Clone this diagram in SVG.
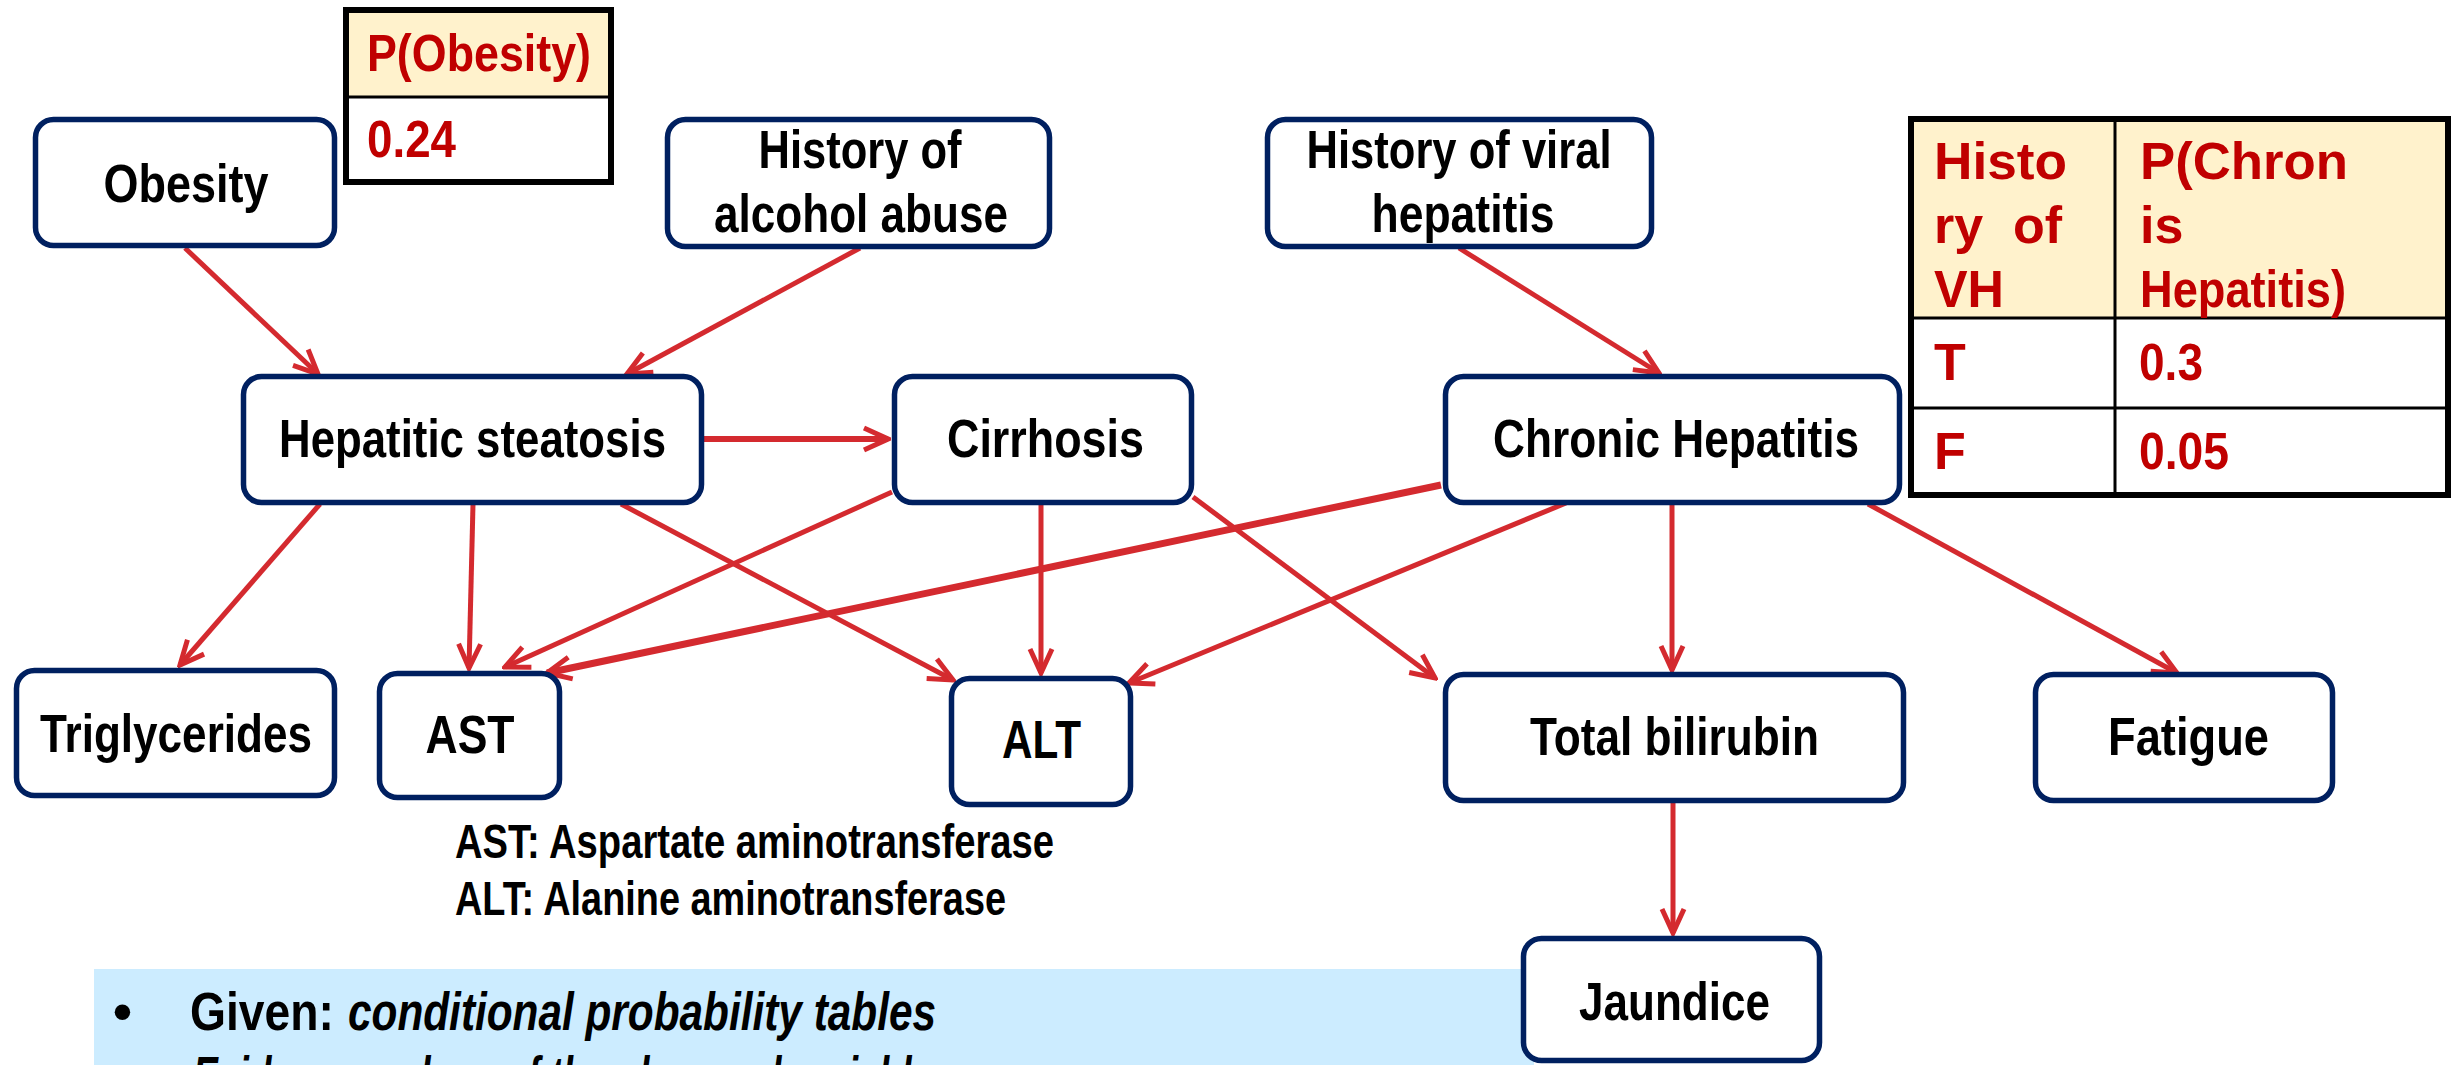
<svg xmlns="http://www.w3.org/2000/svg" width="2453" height="1065" viewBox="0 0 2453 1065">
  <style>
    .node rect { fill: #FFFFFF; stroke: #002060; stroke-width: 5.5; }
    .lbl { font-family: "Liberation Sans", Arial, sans-serif; font-weight: bold; font-size: 54px; fill: #000000; }
    .note { font-family: "Liberation Sans", Arial, sans-serif; font-weight: bold; font-size: 48px; fill: #000000; }
    .cpt { font-family: "Liberation Sans", Arial, sans-serif; font-weight: bold; font-size: 52px; fill: #C00000; }
    .edge { fill: none; stroke: #D42A2F; stroke-width: 5; marker-end: url(#arr); }
    .head { fill: #FFF2CC; }
    .grid { fill: none; stroke: #000000; stroke-width: 3; }
    .frame { fill: none; stroke: #000000; stroke-width: 6; }
  </style>
  <defs>
    <marker id="arr" markerUnits="userSpaceOnUse" viewBox="0 0 30 28" markerWidth="30" markerHeight="28" refX="27" refY="14" orient="auto">
      <path d="M3,3 L27,14 L3,25" fill="none" stroke="#D42A2F" stroke-width="5"/>
    </marker>
  </defs>

  <rect width="2453" height="1065" fill="#FFFFFF"/>

  <!-- summary panel -->
  <g id="summary">
    <rect x="94" y="969" width="1440" height="110" fill="#CCECFF"/>
    <text class="lbl" x="113" y="1030">•</text>
    <text class="lbl" x="190" y="1030" textLength="144" lengthAdjust="spacingAndGlyphs">Given:</text>
    <text class="lbl" x="348" y="1030" font-style="italic" textLength="588" lengthAdjust="spacingAndGlyphs">conditional probability tables</text>
    <text class="lbl" x="113" y="1094">•</text>
    <text class="lbl" x="193" y="1094" font-style="italic" textLength="760" lengthAdjust="spacingAndGlyphs">Evidence: values of the observed variables</text>
  </g>

  <!-- connectors -->
  <g id="edges">
    <path class="edge" d="M185,248 L318,374"/>
    <path class="edge" d="M860,248 L627,374"/>
    <path class="edge" d="M1459,248 L1659,373"/>
    <path class="edge" d="M704,439 L888,439" style="stroke-width:6"/>
    <path class="edge" d="M320,504 L180,665"/>
    <path class="edge" d="M473,504 L469,668"/>
    <path class="edge" d="M621,504 L953,680"/>
    <path class="edge" d="M892,492 L505,667"/>
    <path class="edge" d="M1441,485 L547,673" style="stroke-width:7"/>
    <path class="edge" d="M1041,504 L1041,673"/>
    <path class="edge" d="M1566,503 L1129,683"/>
    <path class="edge" d="M1193,497 L1435,678"/>
    <path class="edge" d="M1672,505 L1672,670"/>
    <path class="edge" d="M1868,504 L2177,673"/>
    <path class="edge" d="M1673,803 L1673,933"/>
  </g>

  <!-- nodes -->
  <g id="obesity" class="node">
    <rect x="35.5" y="119.5" width="299" height="126" rx="18"/>
    <text class="lbl" x="186" y="202" text-anchor="middle" textLength="165" lengthAdjust="spacingAndGlyphs">Obesity</text>
  </g>
  <g id="alcohol" class="node">
    <rect x="667.5" y="119.5" width="382" height="127" rx="18"/>
    <text class="lbl" x="860" y="168" text-anchor="middle" textLength="203" lengthAdjust="spacingAndGlyphs">History of</text>
    <text class="lbl" x="861" y="232" text-anchor="middle" textLength="294" lengthAdjust="spacingAndGlyphs">alcohol abuse</text>
  </g>
  <g id="viral" class="node">
    <rect x="1267.5" y="119.5" width="384" height="127" rx="18"/>
    <text class="lbl" x="1459" y="168" text-anchor="middle" textLength="305" lengthAdjust="spacingAndGlyphs">History of viral</text>
    <text class="lbl" x="1463" y="232" text-anchor="middle" textLength="183" lengthAdjust="spacingAndGlyphs">hepatitis</text>
  </g>
  <g id="steatosis" class="node">
    <rect x="243.5" y="376.5" width="458" height="126" rx="18"/>
    <text class="lbl" x="472.5" y="457" text-anchor="middle" textLength="387" lengthAdjust="spacingAndGlyphs">Hepatitic steatosis</text>
  </g>
  <g id="cirrhosis" class="node">
    <rect x="894.5" y="376.5" width="297" height="126" rx="18"/>
    <text class="lbl" x="1045.5" y="457" text-anchor="middle" textLength="197" lengthAdjust="spacingAndGlyphs">Cirrhosis</text>
  </g>
  <g id="chronic" class="node">
    <rect x="1445.5" y="376.5" width="454" height="126" rx="18"/>
    <text class="lbl" x="1676" y="457" text-anchor="middle" textLength="366" lengthAdjust="spacingAndGlyphs">Chronic Hepatitis</text>
  </g>
  <g id="triglycerides" class="node">
    <rect x="16.5" y="670.5" width="318" height="125" rx="18"/>
    <text class="lbl" x="176" y="752" text-anchor="middle" textLength="272" lengthAdjust="spacingAndGlyphs">Triglycerides</text>
  </g>
  <g id="ast" class="node">
    <rect x="379.5" y="673.5" width="180" height="124" rx="18"/>
    <text class="lbl" x="470" y="753" text-anchor="middle" textLength="89" lengthAdjust="spacingAndGlyphs">AST</text>
  </g>
  <g id="alt" class="node">
    <rect x="951.5" y="678.5" width="179" height="126" rx="18"/>
    <text class="lbl" x="1041.5" y="758" text-anchor="middle" textLength="79" lengthAdjust="spacingAndGlyphs">ALT</text>
  </g>
  <g id="bilirubin" class="node">
    <rect x="1445.5" y="674.5" width="458" height="126" rx="18"/>
    <text class="lbl" x="1674.5" y="755" text-anchor="middle" textLength="289" lengthAdjust="spacingAndGlyphs">Total bilirubin</text>
  </g>
  <g id="fatigue" class="node">
    <rect x="2035.5" y="674.5" width="297" height="126" rx="18"/>
    <text class="lbl" x="2188.5" y="755" text-anchor="middle" textLength="161" lengthAdjust="spacingAndGlyphs">Fatigue</text>
  </g>
  <g id="jaundice" class="node">
    <rect x="1523.5" y="938.5" width="296" height="122" rx="18"/>
    <text class="lbl" x="1674.5" y="1020" text-anchor="middle" textLength="191" lengthAdjust="spacingAndGlyphs">Jaundice</text>
  </g>

  <!-- abbreviation notes -->
  <g id="notes">
    <text class="note" x="455" y="858" textLength="599" lengthAdjust="spacingAndGlyphs">AST: Aspartate  aminotransferase</text>
    <text class="note" x="455" y="915" textLength="551" lengthAdjust="spacingAndGlyphs">ALT: Alanine aminotransferase</text>
  </g>

  <!-- prior table for Obesity -->
  <g id="cpt-obesity">
    <rect x="346" y="10" width="265" height="87" class="head"/>
    <rect x="346" y="97" width="265" height="85" fill="#FFFFFF"/>
    <line x1="346" y1="97" x2="611" y2="97" class="grid"/>
    <rect x="346" y="10" width="265" height="172" class="frame"/>
    <text class="cpt" x="367" y="71" textLength="224" lengthAdjust="spacingAndGlyphs">P(Obesity)</text>
    <text class="cpt" x="367" y="157" textLength="89" lengthAdjust="spacingAndGlyphs">0.24</text>
  </g>

  <!-- conditional table for Chronic Hepatitis -->
  <g id="cpt-chronic">
    <rect x="1911" y="119" width="537" height="199" class="head"/>
    <rect x="1911" y="318" width="537" height="177" fill="#FFFFFF"/>
    <line x1="1911" y1="318" x2="2448" y2="318" class="grid"/>
    <line x1="1911" y1="408" x2="2448" y2="408" class="grid"/>
    <line x1="2115" y1="119" x2="2115" y2="495" class="grid"/>
    <rect x="1911" y="119" width="537" height="376" class="frame"/>
    <text class="cpt" x="1934" y="179" textLength="133" lengthAdjust="spacingAndGlyphs">Histo</text>
    <text class="cpt" x="1934" y="243">ry</text>
    <text class="cpt" x="2013" y="243">of</text>
    <text class="cpt" x="1934" y="307" textLength="70" lengthAdjust="spacingAndGlyphs">VH</text>
    <text class="cpt" x="2140" y="179" textLength="208" lengthAdjust="spacingAndGlyphs">P(Chron</text>
    <text class="cpt" x="2140" y="243">is</text>
    <text class="cpt" x="2140" y="307" textLength="206" lengthAdjust="spacingAndGlyphs">Hepatitis)</text>
    <text class="cpt" x="1934" y="380">T</text>
    <text class="cpt" x="2139" y="380" textLength="64" lengthAdjust="spacingAndGlyphs">0.3</text>
    <text class="cpt" x="1934" y="469">F</text>
    <text class="cpt" x="2139" y="469" textLength="90" lengthAdjust="spacingAndGlyphs">0.05</text>
  </g>
</svg>
